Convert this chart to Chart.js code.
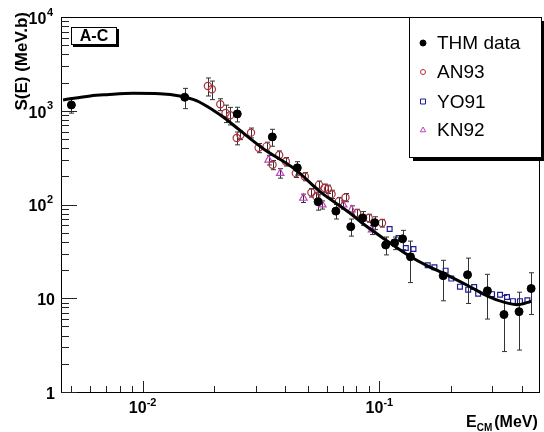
<!DOCTYPE html>
<html>
<head>
<meta charset="utf-8">
<script src="https://cdn.jsdelivr.net/npm/chart.js@4.4.1/dist/chart.umd.min.js"></script>
<style>
html, body { margin: 0; padding: 0; background: #fff; }
#wrap { width: 544px; height: 432px; }
</style>
</head>
<body>
<div id="wrap"><canvas id="chart" width="544" height="432"></canvas></div>
<script>
// values: E in MeV, S(E) in MeV.b
const thmE = [0.0050, 0.01506, 0.0251, 0.0353, 0.0450, 0.0551, 0.0655, 0.0757, 0.0851, 0.0956, 0.1063, 0.116, 0.1253, 0.1353, 0.186, 0.2357, 0.286, 0.336, 0.389, 0.4375];
const thmS = [1153, 1393, 925, 526, 246, 107, 85, 58, 72, 64, 37, 39, 43, 27.7, 17.4, 17.8, 12, 6.7, 7.2, 12.7];
const thmErr = [210, 340, 165, 108, 40, 20, 15, 12, 12, 10, 8, 6, 10, 13, 8, 9, 6, 4, 4.4, 6];

const anE = [0.01886, 0.01961, 0.02127, 0.02239, 0.02343, 0.02496, 0.02588, 0.0287, 0.0309, 0.03338, 0.03538, 0.03773, 0.04027, 0.04436, 0.04842, 0.05161, 0.05415, 0.05559, 0.05873, 0.06064, 0.06284, 0.06745, 0.07194, 0.08052, 0.09016, 0.1026];
const anS = [1837, 1694, 1173, 948, 896, 513, 552, 584, 402, 417, 265, 338, 287, 216, 199, 134, 122, 162, 150, 146, 129, 108, 119, 81, 71.7, 63.4];
const anErr = [400, 380, 170, 200, 190, 80, 60, 70, 45, 45, 30, 35, 30, 22, 20, 14, 13, 16, 15, 15, 13, 11, 12, 8, 7, 6];

const yoE = [0.1105, 0.1205, 0.1293, 0.1393, 0.16, 0.1708, 0.1905, 0.2013, 0.2189, 0.2372, 0.2514, 0.2613, 0.2992, 0.3234, 0.346, 0.3666, 0.3924, 0.4218];
const yoS = [54.7, 43.9, 34.3, 33.5, 22.5, 21.4, 19.7, 16.2, 13.3, 12.35, 13.2, 11.2, 11.06, 10.9, 10.3, 9.31, 9.31, 9.5];

const knE = [0.03404, 0.03811, 0.04775, 0.05741, 0.07035, 0.07625, 0.0931];
const knS = [299, 216, 117, 99.3, 99.3, 87.8, 53.8];
const knErr = [35, 25, 12, 10, 10, 9, 6];

// fitted curve
const fitE = [0.004612, 0.006008, 0.007059, 0.00913, 0.01182, 0.01434, 0.01686, 0.01979, 0.02254, 0.02564, 0.03212, 0.04436, 0.05559, 0.06534, 0.0743, 0.08453, 0.106, 0.135, 0.1611, 0.1894, 0.2372, 0.2877, 0.3383, 0.3849, 0.4377];
const fitS = [1303, 1438, 1484, 1536, 1521, 1438, 1281, 1020, 812, 624, 399, 234, 140, 104, 82.6, 63.4, 42.1, 27.9, 21.9, 18.1, 13.6, 10.5, 9.04, 8.55, 9.27];

// axis ticks: [value, base, exponent]
const yTicks = [[1, '1', ''], [10, '10', ''], [100, '10', '2'], [1000, '10', '3'], [10000, '10', '4']];
const xTicks = [[0.01, '10', '-2'], [0.1, '10', '-1']];

const FONT = '"Liberation Sans", Arial, sans-serif';

function pts(xs, ys) {
    return xs.map((x, i) => ({ x: x, y: ys[i] }));
}

function drawMarker(ctx, style, x, y, r, color, filled) {
    ctx.save();
    ctx.strokeStyle = color;
    ctx.fillStyle = color;
    ctx.lineWidth = 1;
    ctx.beginPath();
    if (style === 'circle') {
        ctx.arc(x, y, r, 0, Math.PI * 2);
    } else if (style === 'rect') {
        ctx.rect(x - r, y - r, 2 * r, 2 * r);
    } else {
        ctx.moveTo(x, y - r);
        ctx.lineTo(x + r * 0.9, y + r * 0.6);
        ctx.lineTo(x - r * 0.9, y + r * 0.6);
        ctx.closePath();
    }
    if (filled) ctx.fill();
    ctx.stroke();
    ctx.restore();
}

const rootStyle = {
    id: 'rootStyle',
    beforeDatasetsDraw(chart) {
        // error bars
        const ctx = chart.ctx, xs = chart.scales.x, ys = chart.scales.y, a = chart.chartArea;
        ctx.save();
        ctx.beginPath();
        ctx.rect(a.left, a.top, a.right - a.left, a.bottom - a.top);
        ctx.clip();
        ctx.strokeStyle = '#333';
        ctx.lineWidth = 1;
        chart.data.datasets.forEach(ds => {
            if (!ds.err) return;
            ds.data.forEach((p, i) => {
                const px = Math.round(xs.getPixelForValue(p.x)) + 0.5;
                const lo = Math.max(p.y - ds.err[i], 0.5);
                const y1 = ys.getPixelForValue(p.y + ds.err[i]);
                const y2 = ys.getPixelForValue(lo);
                ctx.beginPath();
                ctx.moveTo(px, y1); ctx.lineTo(px, y2);
                ctx.moveTo(px - 2.5, y1); ctx.lineTo(px + 2.5, y1);
                ctx.moveTo(px - 2.5, y2); ctx.lineTo(px + 2.5, y2);
                ctx.stroke();
            });
        });
        ctx.restore();
    },
    afterDraw(chart) {
        const ctx = chart.ctx, xs = chart.scales.x, ys = chart.scales.y, a = chart.chartArea;
        ctx.save();

        // frame
        ctx.strokeStyle = '#000';
        ctx.lineWidth = 1;
        ctx.strokeRect(Math.round(a.left) + 0.5, Math.round(a.top) + 0.5, Math.round(a.right - a.left), Math.round(a.bottom - a.top));

        // y ticks, inside
        ctx.strokeStyle = '#222';
        ctx.beginPath();
        for (let d = 0; d < 4; d++) {
            for (let k = 1; k < 10; k++) {
                const v = k * Math.pow(10, d);
                const py = Math.round(ys.getPixelForValue(v)) + 0.5;
                const len = k === 1 ? 16 : 8;
                ctx.moveTo(a.left, py); ctx.lineTo(a.left + len, py);
            }
        }
        // x ticks, inside
        for (let d = -3; d < 0; d++) {
            for (let k = 1; k < 10; k++) {
                const v = k * Math.pow(10, d);
                if (v < xs.min || v > xs.max) continue;
                const px = Math.round(xs.getPixelForValue(v)) + 0.5;
                const len = k === 1 ? 11 : 6;
                ctx.moveTo(px, a.bottom); ctx.lineTo(px, a.bottom - len);
            }
        }
        ctx.stroke();

        // y tick labels
        ctx.fillStyle = '#000';
        ctx.textBaseline = 'middle';
        yTicks.forEach(t => {
            const py = ys.getPixelForValue(t[0]) + 2.5;
            if (t[2]) {
                ctx.font = 'bold 11px ' + FONT;
                const ew = ctx.measureText(t[2]).width;
                ctx.textAlign = 'left';
                ctx.fillText(t[2], 53 - ew, py - 7);
                ctx.font = 'bold 16px ' + FONT;
                ctx.textAlign = 'right';
                ctx.fillText(t[1], 53 - ew - 0.5, py);
            } else {
                ctx.font = 'bold 16px ' + FONT;
                ctx.textAlign = 'right';
                ctx.fillText(t[1], 55, py);
            }
        });

        // x tick labels
        xTicks.forEach(t => {
            const px = xs.getPixelForValue(t[0]);
            ctx.font = 'bold 16px ' + FONT;
            const bw = ctx.measureText(t[1]).width;
            ctx.font = 'bold 11px ' + FONT;
            const ew = ctx.measureText(t[2]).width;
            const x0 = px - (bw + ew) / 2;
            ctx.textAlign = 'left';
            ctx.fillText(t[2], x0 + bw, 403);
            ctx.font = 'bold 16px ' + FONT;
            ctx.fillText(t[1], x0, 409);
        });

        // x title: E_CM (MeV)
        ctx.textBaseline = 'alphabetic';
        ctx.textAlign = 'left';
        ctx.font = 'bold 16px ' + FONT;
        let tx = 466;
        ctx.fillText('E', tx, 427);
        tx += ctx.measureText('E').width;
        ctx.font = 'bold 10px ' + FONT;
        ctx.fillText('CM', tx, 431);
        tx += ctx.measureText('CM').width + 2;
        ctx.font = 'bold 16px ' + FONT;
        ctx.fillText('(MeV)', tx, 427);

        // y title
        ctx.save();
        ctx.translate(27, 12);
        ctx.rotate(-Math.PI / 2);
        ctx.font = 'bold 17px ' + FONT;
        ctx.textAlign = 'right';
        ctx.fillText('S(E) (MeV.b)', 0, 0);
        ctx.restore();

        // "A-C" label box
        ctx.fillStyle = '#000';
        ctx.fillRect(73, 29, 46, 18);
        ctx.fillStyle = '#fff';
        ctx.fillRect(71, 27, 46, 18);
        ctx.strokeStyle = '#000';
        ctx.strokeRect(71.5, 27.5, 45, 17);
        ctx.fillStyle = '#000';
        ctx.font = 'bold 16px ' + FONT;
        ctx.textAlign = 'center';
        ctx.textBaseline = 'middle';
        ctx.fillText('A-C', 94, 37);

        // legend box with shadow
        const lx = 409, ly = 17, lw = 132, lh = 140;
        ctx.fillStyle = '#000';
        ctx.fillRect(lx + 4, ly + 4, lw, lh);
        ctx.fillStyle = '#fff';
        ctx.fillRect(lx, ly, lw, lh);
        ctx.strokeStyle = '#000';
        ctx.lineWidth = 1;
        ctx.strokeRect(lx + 0.5, ly + 0.5, lw, lh);

        ctx.font = '19px ' + FONT;
        ctx.textAlign = 'left';
        ctx.textBaseline = 'middle';
        const rows = [43, 72, 101.5, 130];
        chart.data.datasets.filter(ds => ds.legend).forEach((ds, i) => {
            drawMarker(ctx, ds.pointStyle, 423, rows[i], ds.legendR, ds.borderColor, ds.legendFill);
            ctx.fillStyle = '#000';
            ctx.fillText(ds.label, 437, rows[i] + 1);
        });
        ctx.restore();
    }
};

const ctx = document.getElementById('chart').getContext('2d');
new Chart(ctx, {
    type: 'scatter',
    data: {
        datasets: [
            {
                label: 'THM data', data: pts(thmE, thmS), err: thmErr, legend: true, legendR: 3, legendFill: true,
                pointStyle: 'circle', pointRadius: 4, backgroundColor: '#000', borderColor: '#000', borderWidth: 1, order: 0
            },
            {
                label: 'AN93', data: pts(anE, anS), err: anErr, legend: true, legendR: 2.5, legendFill: false,
                pointStyle: 'circle', pointRadius: 3.6, backgroundColor: 'rgba(0,0,0,0)', borderColor: '#b0303a', borderWidth: 1.2, order: 2
            },
            {
                label: 'YO91', data: pts(yoE, yoS), legend: true, legendR: 2.5, legendFill: false,
                pointStyle: 'rect', pointRadius: 3.4, backgroundColor: 'rgba(0,0,0,0)', borderColor: '#1c1c96', borderWidth: 1.2, order: 4
            },
            {
                label: 'KN92', data: pts(knE, knS), err: knErr, legend: true, legendR: 3, legendFill: false,
                pointStyle: 'triangle', pointRadius: 4.3, backgroundColor: 'rgba(0,0,0,0)', borderColor: '#c040c0', borderWidth: 1.2, order: 3
            },
            {
                label: 'fit', data: pts(fitE, fitS), showLine: true, pointRadius: 0,
                borderColor: '#000', borderWidth: 3, cubicInterpolationMode: 'monotone', order: 1
            }
        ]
    },
    options: {
        responsive: false,
        animation: false,
        layout: { padding: { left: 61, top: 17, right: 3, bottom: 40 } },
        plugins: { legend: { display: false }, tooltip: { enabled: false } },
        scales: {
            x: { type: 'logarithmic', min: 0.00452, max: 0.47, display: false },
            y: { type: 'logarithmic', min: 1, max: 10000, display: false }
        }
    },
    plugins: [rootStyle]
});
</script>
</body>
</html>
